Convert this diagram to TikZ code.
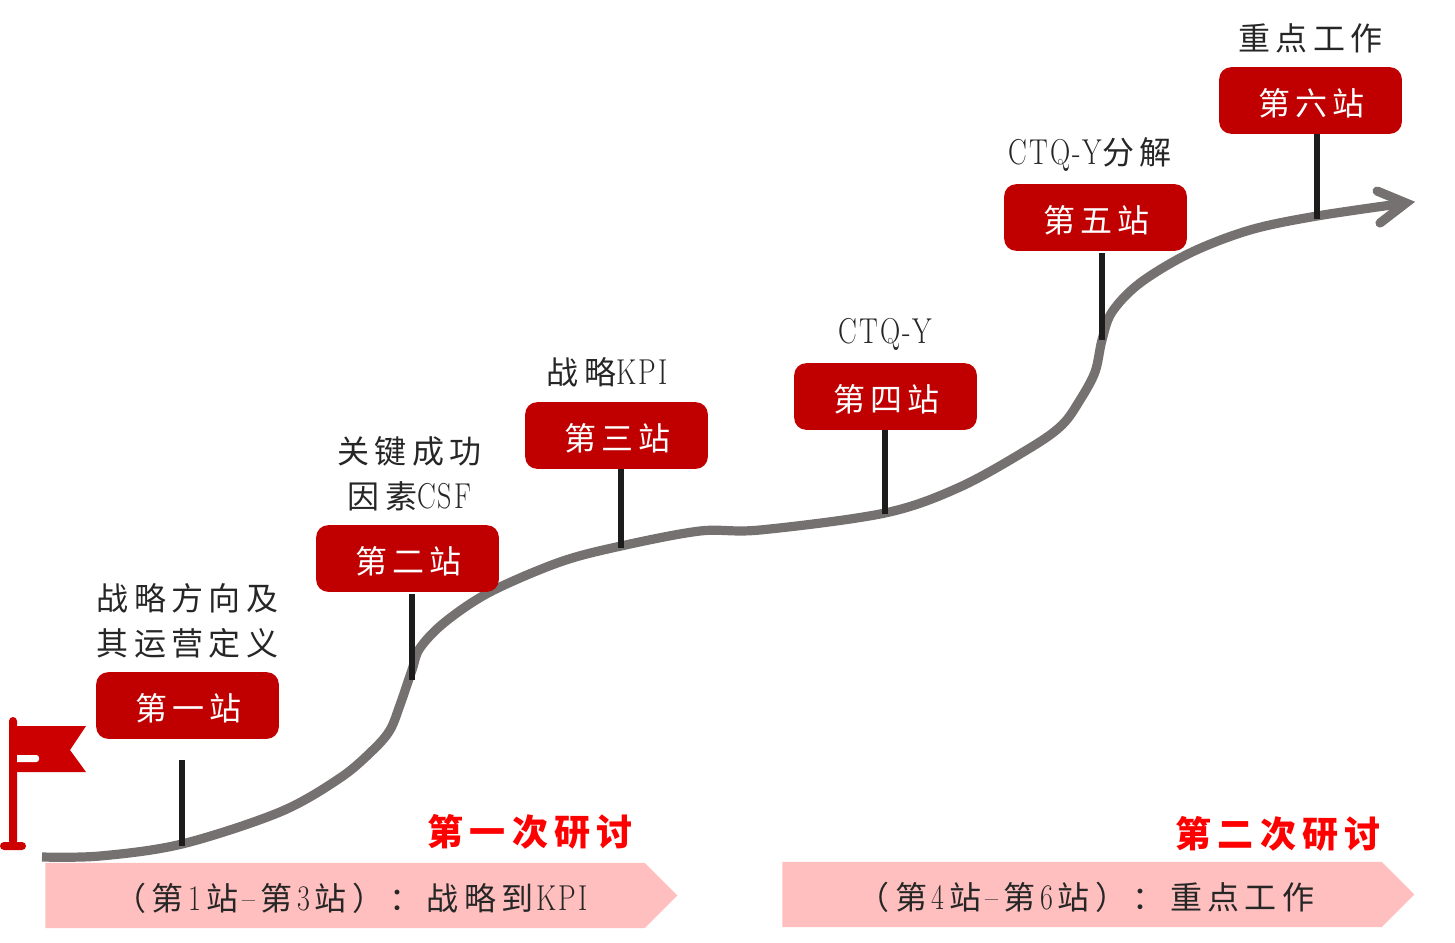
\documentclass[tikz,border=0pt]{standalone}
\usepackage{fontspec}
\usepackage{graphicx}
\usetikzlibrary{positioning,shapes.symbols}
\newfontfamily\cjk[LetterSpace=17]{Noto Sans CJK SC}
\newfontfamily\latn[LetterSpace=7]{Latin Modern Roman}
\newcommand{\lat}[1]{\scalebox{.78}[1]{\latn\fontsize{27}{27}\selectfont #1}}
\newcommand{\gaplat}[1]{\kern3.5pt\lat{#1}\kern3.5pt}
\definecolor{stationred}{HTML}{C00000}
\definecolor{flagred}{HTML}{CC0000}
\definecolor{bandpink}{HTML}{FFBFBF}
\definecolor{roadgrey}{HTML}{767171}
\definecolor{stemblack}{HTML}{1C1C1C}
\tikzset{
station/.style = {fill=stationred, rounded corners=9pt, minimum width=137pt, minimum height=50pt, inner sep=0pt, text height=22.5pt, text depth=0pt, text=white, font=\cjk\fontsize{24}{24}\selectfont},
topic/.style = {align=center, inner sep=0pt, text=black!85, font=\cjk\fontsize{24}{33.75}\selectfont},
band/.style = {signal, signal to=east, signal pointer angle=90, fill=bandpink, minimum width=474pt, minimum height=49pt, inner sep=0pt, text height=23pt, text depth=0pt, text=black!85, font=\cjk\fontsize{24}{24}\selectfont},
round/.style = {text=red, inner sep=0pt, font=\cjk\bfseries\fontsize{27}{27}\selectfont},
road/.style = {draw=roadgrey, line width=6.9pt, line join=round},
stem/.style = {draw=stemblack, line width=3.8pt},
}
\begin{document}
\begin{tikzpicture}[x=0.75pt,y=-0.75pt]
\useasboundingbox (0,0) rectangle (1455,942);
% bands
\node [band] (b1) at (345,895.5) {\hspace*{9pt}（第\gaplat{1}站\gaplat{–}第\gaplat{3}站）：战略到\kern2pt\lat{KPI}};
\node [band] (b2) at (1082,894.5) {\hspace*{6pt}（第\gaplat{4}站\gaplat{–}第\gaplat{6}站）：重点工作};
\node [round] (r1) at (530,832) {第一次研讨};
\node [round] (r2) at (1278,834) {第二次研讨};
% road
\draw [road] plot [smooth, tension=.55] coordinates {(42,857) (100,856) (182,844) (280,812) (340,778) (373,750) (390,730) (400,705) (412,670) (420,648) (445,622) (490,592) (560,562) (621,546) (700,531) (760,530) (885,513) (960,487) (1030,448) (1062,425) (1080,400) (1095,372) (1102,340) (1112,312) (1140,283) (1190,253) (1250,230) (1317,216) (1406,203)};
\draw [road, line cap=round, line join=miter] (1377,191) -- (1406,203) -- (1380,223);
% stations
\node [station] (s1) at (187.5,705.5) {\kern1.5pt第一站};
\node [station] (s2) at (407.5,558.5) {\kern1.5pt第二站};
\node [station] (s3) at (616.5,435.5) {\kern1.5pt第三站};
\node [station] (s4) at (885.5,396.5) {\kern1.5pt第四站};
\node [station] (s5) at (1095.5,217.5) {\kern1.5pt第五站};
\node [station] (s6) at (1310.5,100.5) {\kern1.5pt第六站};
\node [topic, above = 10pt of s1] (t1) {战略方向及\\其运营定义};
\node [topic, above = 10pt of s2, xshift=1.5pt] (t2) {关键成功\\因素\lat{CSF}};
\node [topic, above = 11pt of s3, xshift=-7pt] (t3) {战略\lat{KPI}};
\node [topic, above = 9pt of s4] (t4) {\lat{CTQ-Y}};
\node [topic, above = 9pt of s5, xshift=-4pt] (t5) {\lat{CTQ-Y}分解};
\node [topic, above = 10pt of s6] (t6) {重点工作};
% stems
\coordinate (f1) at (182,760);
\coordinate (g1) at (182,846);
\coordinate (f2) at (412,594);
\coordinate (g2) at (412,680);
\coordinate (g3) at (621,548);
\coordinate (g4) at (885,514);
\coordinate (f5) at (1102,253);
\coordinate (g5) at (1102,340);
\coordinate (g6) at (1317,219);
\draw [stem] (f1) -- (g1);
\draw [stem] (f2) -- (g2);
\draw [stem] (s3.south -| g3) -- (g3);
\draw [stem] (s4.south -| g4) -- (g4);
\draw [stem] (f5) -- (g5);
\draw [stem] (s6.south -| g6) -- (g6);
% flag
\fill [flagred] (17,726) -- (86,726) -- (70,750) -- (86,772) -- (17,772) -- cycle;
\fill [flagred, rounded corners=3pt] (9,845) -- (9,717) -- (17,717) -- (17,845) -- cycle;
\fill [flagred, rounded corners=3pt] (0,842) rectangle (26,850);
\fill [white] (17,755) [rounded corners=2pt] -- (39,755) -- (39,762) [sharp corners] -- (17,762) -- cycle;
\end{tikzpicture}
\end{document}
